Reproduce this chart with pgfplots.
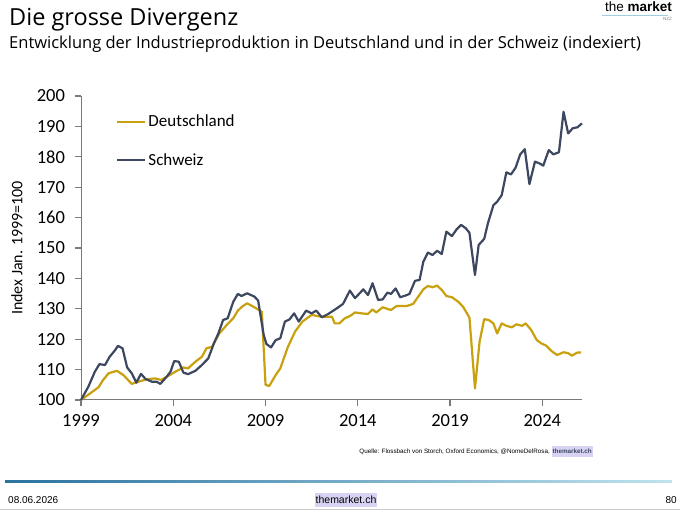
\documentclass[border=0pt]{standalone}
\usepackage{pgfplots}
\pgfplotsset{compat=1.18}
\usepackage{fontspec}
\setmainfont{Open Sans}
\newfontfamily\carl{Carlito}
\newfontfamily\ari{Liberation Sans}
\definecolor{dgold}{HTML}{C9A00E}
\definecolor{chnavy}{HTML}{3D4860}
\definecolor{axgray}{HTML}{7A7A7A}
\definecolor{hilite}{HTML}{D8D3F2}
\definecolor{lineblue}{HTML}{2A72A0}
\definecolor{linelight}{HTML}{BFE3EE}
\begin{document}
\begin{tikzpicture}
\useasboundingbox[fill=white] (0,0) rectangle (680pt,510pt);
% titles
\node[anchor=base west, inner sep=0pt, font=\fontsize{23.5}{26}\selectfont] at (9pt,484pt) {Die grosse Divergenz};
\node[anchor=base west, inner sep=0pt, font=\fontsize{16.5}{19}\selectfont] at (9pt,461pt) {Entwicklung der Industrieproduktion in Deutschland und in der Schweiz (indexiert)};
% logo
\node[anchor=base east, inner sep=0pt, font=\ari\fontsize{13.5}{14}\selectfont] at (672pt,498pt) {the \textbf{market}};
\draw[linelight!80!lineblue, line width=1pt] (602pt,494.5pt) -- (668pt,494.5pt);
\node[anchor=base east, inner sep=0pt, font=\ari\fontsize{4.5}{5}\selectfont, text=gray] at (672pt,489pt) {NZZ};
% source
\node[anchor=base east, inner sep=0pt, font=\ari\fontsize{6.3}{7}\selectfont] at (593pt,56pt) {Quelle: Flossbach von Storch, Oxford Economics, @NomeDelRosa, \colorbox{hilite}{\kern-2pt\textbf{\textcolor{chnavy}{themarket.ch}}\kern-2pt}};
% footer line
\shade[left color=lineblue, right color=linelight] (5pt,27pt) rectangle (672pt,29pt);
\node[anchor=base west, inner sep=0pt, font=\ari\fontsize{10}{11}\selectfont] at (8pt,6pt) {08.06.2026};
\node[anchor=base, inner sep=0pt, font=\ari\fontsize{10.5}{11}\selectfont] at (346pt,6pt) {\colorbox{hilite}{\kern-2pt themarket.ch\kern-2pt}};
\node[anchor=base east, inner sep=0pt, font=\ari\fontsize{10}{11}\selectfont] at (677pt,6pt) {80};
\draw[gray!40, line width=0.8pt] (0pt,1pt) -- (680pt,1pt);
\begin{axis}[
  at={(81pt,110pt)}, anchor=south west,
  scale only axis, width=501pt, height=304pt,
  xmin=1999, xmax=2026.15, ymin=100, ymax=200,
  axis x line=bottom, axis y line=left,
  axis line style={-, draw=axgray, line width=1pt},
  xtick style={draw=axgray, line width=1.2pt},
  ytick style={draw=axgray, line width=1.2pt},
  xtick align=outside, ytick align=outside, major tick length=6.5pt,
  xtick={1999,2004,2009,2014,2019,2024},
  ytick={100,110,...,200},
  xticklabel style={/pgf/number format/1000 sep=, yshift=-4pt},
  yticklabel style={xshift=-6pt},
  /pgf/number format/assume math mode=true,
  ticklabel style={font=\carl\fontsize{18.5}{20}\selectfont},
  ylabel={Index Jan. 1999=100},
  ylabel style={font=\carl\fontsize{16}{18}\selectfont, at={(axis description cs:0,0.5)}, anchor=center, yshift=64pt},
  clip=false,
  legend style={at={(axis cs:2000.9,185.2)}, anchor=west, draw=none, fill=none,
    font=\carl\fontsize{17}{19}\selectfont, row sep=21pt, inner sep=0pt},
  legend cell align=left,
  legend image code/.code={\draw[#1] (0pt,0pt) -- (28pt,0pt);},
]
\addplot[dgold, line width=2.2pt, line join=round] coordinates {
(1999.0,100) (1999.5,102.2) (1999.95,104.2) (2000.2,106.6) (2000.5,108.8) (2000.95,109.6)
(2001.3,108.2) (2001.75,105.3) (2002.1,106) (2002.55,106.8) (2003.0,107.1) (2003.35,106.6)
(2003.8,108.2) (2004.2,109.6) (2004.55,110.7) (2004.8,110.4) (2005.2,112.6) (2005.55,114.2)
(2005.8,117) (2006.1,117.5) (2006.5,121.9) (2006.9,124.7) (2007.25,126.9) (2007.5,129.4)
(2007.75,130.8) (2008.0,131.8) (2008.4,130.5) (2008.8,129) (2009.0,105) (2009.2,104.6)
(2009.55,108.2) (2009.8,110.4) (2010.2,117.3) (2010.6,122.5) (2011.0,125.8) (2011.5,128)
(2012.0,127.4) (2012.6,127.4) (2012.75,125.2) (2013.0,125.2) (2013.3,126.9) (2013.57,127.6)
(2013.85,128.8) (2014.2,128.5) (2014.55,128.3) (2014.8,129.8) (2015.0,128.8) (2015.35,130.5)
(2015.8,129.6) (2016.1,130.9) (2016.65,130.9) (2017.0,131.6) (2017.3,134.2) (2017.55,136.4)
(2017.8,137.5) (2018.05,137.1) (2018.3,137.6) (2018.55,136.2) (2018.8,134.2) (2019.1,133.8)
(2019.45,132.3) (2019.7,130.7) (2020.05,127.1) (2020.35,103.8) (2020.6,119.2) (2020.85,126.6)
(2021.1,126.3) (2021.35,125.2) (2021.55,121.9) (2021.8,125.2) (2022.05,124.4) (2022.35,123.9)
(2022.6,124.9) (2022.9,124.4) (2023.1,125.2) (2023.4,123) (2023.7,119.7) (2023.95,118.6)
(2024.2,117.9) (2024.5,116.1) (2024.8,114.8) (2025.15,115.7) (2025.4,115.4) (2025.6,114.6)
(2025.9,115.6) (2026.1,115.6)
};
\addlegendentry{Deutschland}
\addplot[chnavy, line width=2.2pt, line join=round] coordinates {
(1999.0,100) (1999.4,104.4) (1999.75,109.3) (2000.0,111.8) (2000.3,111.5) (2000.55,114.2)
(2000.85,116.4) (2001.0,117.8) (2001.25,117) (2001.5,110.7) (2001.75,108.8) (2002.0,105.7)
(2002.25,108.6) (2002.5,106.9) (2002.85,106) (2003.1,106) (2003.3,105.3) (2003.65,107.7)
(2003.85,109.3) (2004.05,112.8) (2004.3,112.6) (2004.55,109) (2004.8,108.5) (2005.2,109.6)
(2005.55,111.5) (2005.9,113.7) (2006.2,118.6) (2006.45,122) (2006.7,126.3) (2006.95,126.9)
(2007.25,132.3) (2007.5,134.9) (2007.7,134.2) (2008.0,135.1) (2008.4,134) (2008.6,132.7)
(2008.9,121.4) (2009.05,118.4) (2009.3,117.3) (2009.55,119.7) (2009.8,120.3) (2010.05,125.8)
(2010.3,126.5) (2010.55,128.5) (2010.8,125.8) (2011.2,129.4) (2011.5,128.5) (2011.75,129.4)
(2012.05,127.2) (2012.4,128.3) (2012.9,130.3) (2013.2,131.6) (2013.57,136) (2013.85,133.5)
(2014.3,136.4) (2014.55,134.5) (2014.8,138.4) (2015.1,132.9) (2015.35,133.1) (2015.6,135.3)
(2015.8,134.9) (2016.05,136.7) (2016.3,133.8) (2016.65,134.5) (2016.8,134.9) (2017.1,139.2)
(2017.35,139.5) (2017.55,145.5) (2017.8,148.5) (2018.05,147.7) (2018.3,149.1) (2018.55,148)
(2018.8,155.4) (2019.1,153.9) (2019.35,156.1) (2019.6,157.6) (2019.85,156.5) (2020.05,155)
(2020.35,141.1) (2020.55,151) (2020.85,153) (2021.05,158.1) (2021.35,164.1) (2021.55,165.2)
(2021.8,167.4) (2022.05,174.9) (2022.3,174.2) (2022.55,176.4) (2022.8,180.8) (2023.05,182.5)
(2023.3,171) (2023.6,178.4) (2023.85,177.8) (2024.05,177.1) (2024.35,182.2) (2024.6,180.8)
(2024.9,181.5) (2025.15,194.8) (2025.4,187.7) (2025.65,189.4) (2025.9,189.7) (2026.15,191)
};
\addlegendentry{Schweiz}
\end{axis}
\end{tikzpicture}
\end{document}
